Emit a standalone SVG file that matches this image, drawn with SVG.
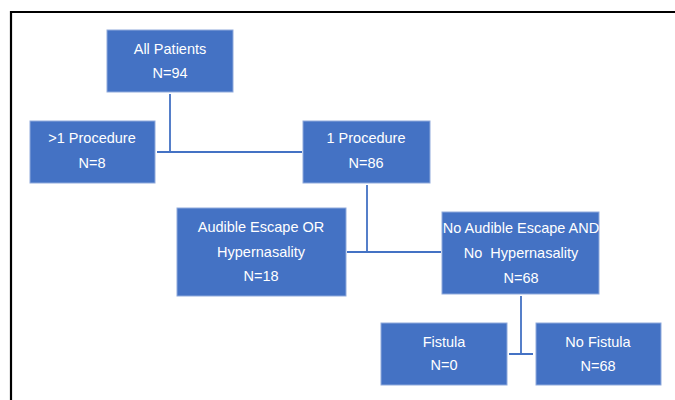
<svg xmlns="http://www.w3.org/2000/svg" width="675" height="400" viewBox="0 0 675 400">
<style>
.box{fill:#4472C4;stroke:#8FAADC;stroke-width:1}
.t{fill:#FFFFFF;font-family:"Liberation Sans",Arial,sans-serif;font-size:14.5px;text-anchor:middle}
.c{stroke:#4472C4;stroke-width:1.8;fill:none}
</style>
<rect width="675" height="400" fill="#FFFFFF"/>
<path d="M11 400 V12 H675" fill="none" stroke="#000000" stroke-width="2.2"/>
<g id="connectors">
<path class="c" d="M170 94 V152 M157 152 H302"/>
<path class="c" d="M367 185 V252 M347 252 H441"/>
<path class="c" d="M521 296 V354 M509 354 H533"/>
</g>
<g id="all-patients">
<rect class="box" x="107" y="30" width="126" height="62"/>
<text class="t" x="170" y="54">All Patients</text>
<text class="t" x="170" y="78">N=94</text>
</g>
<g id="gt1-procedure">
<rect class="box" x="30" y="121" width="125" height="62"/>
<text class="t" x="92" y="143">&gt;1 Procedure</text>
<text class="t" x="92" y="168">N=8</text>
</g>
<g id="one-procedure">
<rect class="box" x="303" y="121" width="127" height="62"/>
<text class="t" x="366" y="143">1 Procedure</text>
<text class="t" x="366" y="168">N=86</text>
</g>
<g id="audible-escape">
<rect class="box" x="177" y="208" width="169" height="88"/>
<text class="t" x="261" y="232">Audible Escape OR</text>
<text class="t" x="261" y="257">Hypernasality</text>
<text class="t" x="261" y="281">N=18</text>
</g>
<g id="no-audible-escape">
<rect class="box" x="442" y="212" width="157" height="82"/>
<text class="t" x="521" y="233">No Audible Escape AND</text>
<text class="t" x="521" y="258" xml:space="preserve">No  Hypernasality</text>
<text class="t" x="521" y="283">N=68</text>
</g>
<g id="fistula">
<rect class="box" x="381" y="323" width="126" height="62"/>
<text class="t" x="444" y="347">Fistula</text>
<text class="t" x="444" y="370">N=0</text>
</g>
<g id="no-fistula">
<rect class="box" x="536" y="323" width="125" height="62"/>
<text class="t" x="598" y="347">No Fistula</text>
<text class="t" x="598" y="371">N=68</text>
</g>
</svg>
